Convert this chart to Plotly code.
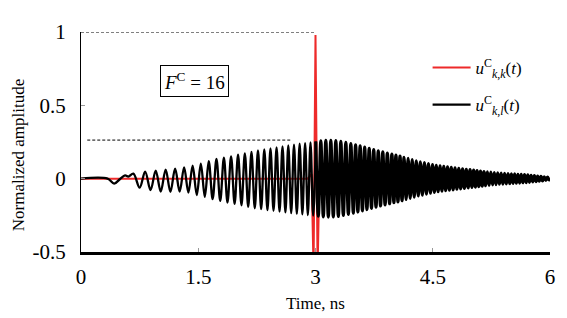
import plotly.graph_objects as go

# ---------------- data ----------------
# red trace u^C_{k,k}(t): zero except a sharp pulse at t = 3 ns
red_t = [0.0, 2.90, 2.950, 2.975, 3.000, 3.027, 3.050, 3.10, 6.0]
red_v = [0.0, 0.0, 0.03, -0.62, 0.98, -0.62, 0.03, 0.0, 0.0]

# black trace u^C_{k,l}(t): oscillation extrema (time in ns, value)
black_t_early = [0.000, 0.340, 0.424, 0.500, 0.564, 0.606, 0.670]
black_v_early = [0.0, 0.0, -0.034, -0.002, 0.022, 0.014, 0.034]

black_t_rise = [0.750, 0.821, 0.890, 0.956, 1.020, 1.083, 1.144, 1.204, 1.262, 1.319,
                1.374, 1.428, 1.481, 1.533, 1.584, 1.634, 1.684, 1.733, 1.781, 1.828,
                1.874, 1.920, 1.965, 2.009, 2.053, 2.096, 2.139, 2.181, 2.223, 2.264,
                2.305, 2.345, 2.385, 2.424, 2.463, 2.502, 2.540, 2.578, 2.615, 2.652,
                2.689, 2.725, 2.761, 2.797, 2.832, 2.867, 2.902, 2.936, 2.970, 3.004]
black_v_rise = [-0.061, 0.048, -0.078, 0.055, -0.088, 0.062, -0.090, 0.068, -0.088, 0.076,
                -0.095, 0.088, -0.112, 0.103, -0.124, 0.120, -0.140, 0.135, -0.152, 0.143,
                -0.163, 0.152, -0.172, 0.163, -0.182, 0.172, -0.192, 0.182, -0.202, 0.192,
                -0.208, 0.200, -0.214, 0.206, -0.219, 0.214, -0.225, 0.220, -0.230, 0.226,
                -0.235, 0.232, -0.240, 0.238, -0.244, 0.243, -0.248, 0.248, -0.252, 0.253]

black_t_peak = [3.004, 3.036, 3.068, 3.100, 3.132, 3.164, 3.196, 3.228, 3.260, 3.292, 3.324,
                3.356, 3.388, 3.420, 3.452, 3.484,
                3.513, 3.542, 3.571, 3.600, 3.629, 3.658, 3.687, 3.716, 3.745, 3.774,
                3.803, 3.832, 3.861, 3.890, 3.919, 3.948, 3.977]
black_v_peak = [0.253, -0.256, 0.258, -0.260, 0.262, -0.262, 0.262, -0.261, 0.260, -0.258, 0.255,
                -0.251, 0.247, -0.243, 0.239, -0.235,
                0.231, -0.227, 0.223, -0.219, 0.215, -0.211, 0.206, -0.202, 0.198, -0.194,
                0.190, -0.186, 0.182, -0.179, 0.175, -0.171, 0.168]

black_t_decay = [4.003, 4.029, 4.055, 4.081, 4.107, 4.133, 4.159, 4.185, 4.211, 4.237,
                 4.263, 4.289, 4.315, 4.341, 4.367, 4.393, 4.419, 4.445, 4.471, 4.497,
                 4.521, 4.545, 4.569, 4.593, 4.617, 4.641, 4.665, 4.689, 4.713, 4.737,
                 4.761, 4.785, 4.809, 4.833, 4.857, 4.881, 4.905, 4.929, 4.953, 4.977, 5.001]
black_v_decay = [-0.164, 0.161, -0.158, 0.154, -0.150, 0.146, -0.142, 0.138, -0.134, 0.130,
                 -0.126, 0.122, -0.118, 0.115, -0.112, 0.109, -0.106, 0.103, -0.099, 0.096,
                 -0.093, 0.090, -0.089, 0.087, -0.085, 0.084, -0.082, 0.080, -0.079, 0.077,
                 -0.076, 0.074, -0.072, 0.071, -0.069, 0.067, -0.066, 0.064, -0.063, 0.061, -0.059]

black_t_tail = [5.023, 5.045, 5.067, 5.089, 5.111, 5.133, 5.155, 5.177, 5.199, 5.221,
                5.243, 5.265, 5.287, 5.309, 5.331, 5.353, 5.375, 5.397, 5.419, 5.441,
                5.463, 5.485, 5.506, 5.527, 5.548, 5.569, 5.590, 5.611, 5.632, 5.653,
                5.674, 5.695, 5.716, 5.737, 5.758, 5.779, 5.800, 5.821, 5.842, 5.863,
                5.884, 5.905, 5.926, 5.947, 5.968, 5.989, 6.000]
black_v_tail = [0.058, -0.057, 0.055, -0.054, 0.052, -0.051, 0.049, -0.048, 0.046, -0.045,
                0.044, -0.042, 0.041, -0.040, 0.039, -0.038, 0.038, -0.037, 0.036, -0.035,
                0.034, -0.034, 0.033, -0.032, 0.032, -0.031, 0.030, -0.030, 0.029, -0.028,
                0.028, -0.027, 0.026, -0.025, 0.023, -0.022, 0.021, -0.020, 0.018, -0.017,
                0.016, -0.015, 0.013, -0.012, 0.010, -0.009, 0.0]

# dashed reference levels
ref_levels = [1.0, 0.263]
ref_starts = [0.0, 0.08]
ref_ends = [3.0, 2.69]

# axis ticks
x_ticks = [0, 1.5, 3, 4.5, 6]
x_ticklabels = ["0", "1.5", "3", "4.5", "6"]
y_ticks = [-0.5, 0, 0.5, 1]
y_ticklabels = ["-0.5", "0", "0.5", "1"]

FONT = "Liberation Serif"
NAME_KL = "<i>u</i><sup>C</sup><sub><i>k</i>,<i>l</i></sub>(<i>t</i>)"
NAME_KK = "<i>u</i><sup>C</sup><sub><i>k</i>,<i>k</i></sub>(<i>t</i>)"

black_t_a = black_t_early + black_t_rise
black_v_a = black_v_early + black_v_rise
black_t_b = black_t_peak + black_t_decay + black_t_tail
black_v_b = black_v_peak + black_v_decay + black_v_tail

fig = go.Figure()

for lvl, s, e in zip(ref_levels, ref_starts, ref_ends):
    fig.add_trace(go.Scatter(x=[s, e], y=[lvl, lvl], mode="lines",
                             line=dict(color="black", width=1, dash="3px,2px"),
                             showlegend=False, hoverinfo="skip"))

fig.add_trace(go.Scatter(
    x=red_t, y=red_v, mode="lines",
    line=dict(color="#ee2a2a", width=2),
    name=NAME_KK, legendgroup="a"))

fig.add_trace(go.Scatter(
    x=black_t_a, y=black_v_a, mode="lines",
    line=dict(color="black", width=2.3, shape="spline"),
    name=NAME_KL, legendgroup="b"))

# densely oscillating part after 3 ns (same series, continued)
fig.add_trace(go.Scatter(
    x=black_t_b, y=black_v_b, mode="lines",
    line=dict(color="black", width=3.2, shape="spline"),
    name=NAME_KL, legendgroup="b", showlegend=False))

# the page body adds an 8 px margin, so the figure is 8 px smaller
fig.update_layout(
    width=559, height=310,
    margin=dict(l=73, r=15, t=24, b=66),
    paper_bgcolor="white", plot_bgcolor="white",
    font=dict(family=FONT, color="black", size=17),
    legend=dict(x=0.739, y=0.918, xanchor="left", yanchor="top",
                bgcolor="rgba(0,0,0,0)", itemwidth=38, tracegroupgap=12,
                font=dict(family=FONT, size=17)),
    annotations=[
        dict(text="<i>F</i><sup>C</sup> = 16", x=1.45, y=0.663, xref="x", yref="y",
             showarrow=False, bordercolor="black", borderwidth=1, borderpad=3,
             font=dict(family=FONT, size=19)),
        dict(text="Time, ns", x=0.499, y=-0.236, xref="paper", yref="paper",
             showarrow=False, xanchor="center", yanchor="middle",
             font=dict(family=FONT, size=17)),
        dict(text="Normalized amplitude", x=-0.1316, y=0.441, xref="paper", yref="paper",
             showarrow=False, textangle=-90, xanchor="center", yanchor="middle",
             font=dict(family=FONT, size=17)),
    ],
)

fig.update_xaxes(range=[0, 6], tickvals=x_ticks, ticktext=x_ticklabels,
                 showline=True, linecolor="black", linewidth=2.5, mirror=False,
                 ticks="inside", ticklen=4, tickcolor="#999999", tickwidth=1,
                 showgrid=False, zeroline=False, ticklabelstandoff=4,
                 tickfont=dict(family=FONT, size=21))
fig.update_yaxes(range=[-0.5, 1], tickvals=y_ticks, ticktext=y_ticklabels,
                 showline=True, linecolor="black", linewidth=1.3, mirror=False,
                 ticks="inside", ticklen=4, tickcolor="#999999", tickwidth=1,
                 showgrid=False, zeroline=False, ticklabelstandoff=10,
                 tickfont=dict(family=FONT, size=21))

fig.write_html("out.html")
